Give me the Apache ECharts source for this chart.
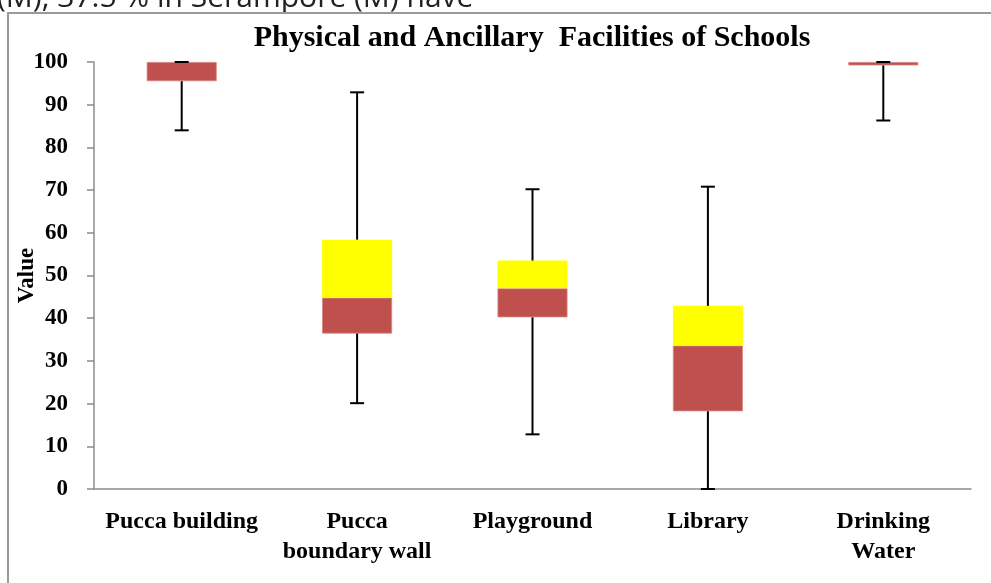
<!DOCTYPE html>
<html>
<head>
<meta charset="utf-8">
<script src="https://cdn.jsdelivr.net/npm/echarts@6/dist/echarts.min.js"></script>
<style>
  html, body { margin: 0; padding: 0; background: #fff; }
  #chart { width: 991px; height: 583px; }
</style>
</head>
<body>
<div id="chart"></div>
<script>
// box plot data
const categories = ['Pucca building', 'Pucca\nboundary wall', 'Playground', 'Library', 'Drinking\nWater'];
const minVals = [84.0, 20.1, 12.8, 0, 86.3];
const q1Vals = [95.5, 36.4, 40.2, 18.2, 99.2];
const medianVals = [100, 44.8, 47.0, 33.6, 100];
const q3Vals = [100, 58.4, 53.5, 42.9, 100];
const maxVals = [100, 92.9, 70.2, 70.8, 100];
const yTicks = [0, 10, 20, 30, 40, 50, 60, 70, 80, 90, 100];

const serif = '"Liberation Serif", "DejaVu Serif", serif';

const lowerPart = medianVals.map((m, i) => +(m - q1Vals[i]).toFixed(2));
const upperPart = q3Vals.map((q, i) => +(q - medianVals[i]).toFixed(2));
const whiskerData = categories.map((c, i) => [i, minVals[i], q1Vals[i], q3Vals[i], maxVals[i]]);

const chart = echarts.init(document.getElementById('chart'));

chart.setOption({
    animation: false,
    title: {
        text: 'Physical and Ancillary  Facilities of Schools',
        left: 527,
        textAlign: 'center',
        top: 18,
        textStyle: { fontFamily: serif, fontWeight: 'bold', fontSize: 30, color: '#000' }
    },
    graphic: [
        {
            type: 'text',
            left: -3,
            top: -17,
            style: { text: '(M), 37.5 % in Serampore (M) have', fontFamily: '"Open Sans", "Liberation Sans", sans-serif', fontSize: 30, fill: '#222' }
        },
        {
            type: 'polyline',
            shape: { points: [[8, 583], [8, 13], [991, 13]] },
            style: { stroke: '#9a9a9a', lineWidth: 2, fill: null }
        }
    ],
    grid: { left: 94, right: 20, top: 62, bottom: 94, outerBoundsMode: 'none' },
    xAxis: {
        type: 'category',
        data: categories,
        axisLine: { lineStyle: { color: '#8c8c8c', width: 1.5 } },
        axisTick: { length: 7, lineStyle: { color: '#8c8c8c', width: 1.5 } },
        axisLabel: {
            fontFamily: serif, fontWeight: 'bold', fontSize: 24, color: '#000',
            margin: 18, lineHeight: 30, interval: 0
        }
    },
    yAxis: {
        type: 'value',
        min: 0,
        max: 100,
        interval: 10,
        name: 'Value',
        nameLocation: 'middle',
        nameGap: 55,
        nameMoveOverlap: false,
        nameTextStyle: { fontFamily: serif, fontWeight: 'bold', fontSize: 23, color: '#000' },
        axisLine: { show: true, lineStyle: { color: '#8c8c8c', width: 1.5 } },
        axisTick: { show: true, length: 7, lineStyle: { color: '#8c8c8c', width: 1.5 } },
        splitLine: { show: false },
        axisLabel: {
            fontFamily: serif, fontWeight: 'bold', fontSize: 23, color: '#000', margin: 26,
            formatter: v => yTicks.includes(v) ? String(v) : ''
        }
    },
    series: [
        {
            type: 'bar',
            stack: 'box',
            data: q1Vals,
            barWidth: 70,
            itemStyle: { color: 'transparent' },
            silent: true
        },
        {
            type: 'bar',
            stack: 'box',
            data: lowerPart,
            itemStyle: { color: '#C0504D', borderColor: '#d98583', borderWidth: 0.8 }
        },
        {
            type: 'bar',
            stack: 'box',
            data: upperPart,
            itemStyle: { color: '#FFFF00' }
        },
        {
            type: 'custom',
            z: 5,
            data: whiskerData,
            renderItem: function (params, api) {
                const x = api.value(0);
                const pMin = api.coord([x, api.value(1)]);
                const pQ1 = api.coord([x, api.value(2)]);
                const pQ3 = api.coord([x, api.value(3)]);
                const pMax = api.coord([x, api.value(4)]);
                const cap = 7;
                const style = { stroke: '#000', lineWidth: 2 };
                return {
                    type: 'group',
                    children: [
                        { type: 'line', shape: { x1: pMin[0], y1: pMin[1], x2: pQ1[0], y2: pQ1[1] }, style: style },
                        { type: 'line', shape: { x1: pQ3[0], y1: pQ3[1], x2: pMax[0], y2: pMax[1] }, style: style },
                        { type: 'line', shape: { x1: pMin[0] - cap, y1: pMin[1], x2: pMin[0] + cap, y2: pMin[1] }, style: style },
                        { type: 'line', shape: { x1: pMax[0] - cap, y1: pMax[1], x2: pMax[0] + cap, y2: pMax[1] }, style: style }
                    ]
                };
            }
        }
    ]
});

window.addEventListener('resize', chart.resize);
</script>
</body>
</html>
